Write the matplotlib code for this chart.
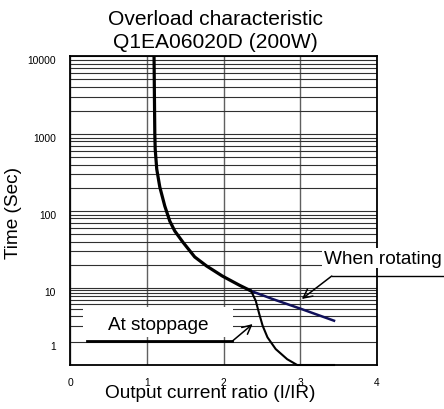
import numpy as np
import matplotlib
matplotlib.use('Agg')
import matplotlib.pyplot as plt
from matplotlib import font_manager
from matplotlib.patches import Rectangle
from matplotlib.ticker import FixedLocator, NullFormatter
import matplotlib.transforms as mtransforms

# curve data
rot_x = [1.095, 1.10, 1.105, 1.11, 1.13, 1.17, 1.235, 1.30, 1.365, 1.47, 1.625, 1.78, 1.985, 2.205, 2.36]
rot_y = [10000, 3000, 1000, 638, 351, 205, 116, 74, 55, 39.5, 25.3, 19.3, 14.3, 10.9, 8.8]
tail_x = [2.36, 2.64, 2.99, 3.44]
tail_y = [8.8, 6.25, 4.2, 2.48]
stop_x = [2.36, 2.42, 2.466, 2.51, 2.573, 2.68, 2.83, 2.96, 3.44]
stop_y = [8.8, 5.8, 3.3, 2.0, 1.22, 0.74, 0.48, 0.375, 0.375]

x_ticks = [0, 1, 2, 3, 4]
y_major = [1, 10, 100, 1000, 10000]
y_labels = ['1', '10', '100', '1000', '10000']
y_minor = [m * 10 ** k for k in range(4) for m in range(2, 10)]

# font: narrow sans if available
names = {f.name for f in font_manager.fontManager.ttflist}
if 'Liberation Sans Narrow' in names:
    FONT, K = 'Liberation Sans Narrow', 1.0
else:
    FONT, K = 'Liberation Sans', 0.84
plt.rcParams['font.family'] = [FONT, 'DejaVu Sans']

W, H = 444, 410
fig = plt.figure(figsize=(W / 100, H / 100), dpi=100)
ax = fig.add_axes([70 / W, 1 - 366 / H, 307 / W, 309 / H])

# the original grid has an uneven lower decade -> piecewise log scale
LOG_NODES = [np.log10(0.375), 0, 1, 2, 3, 4]
PIX_NODES = [0, 23, 77, 154, 231, 309]


def fwd(y):
    return np.interp(np.log10(np.clip(y, 1e-6, None)), LOG_NODES, PIX_NODES)


def inv(p):
    return 10 ** np.interp(p, PIX_NODES, LOG_NODES)


ax.set_yscale('function', functions=(fwd, inv))
ax.set_xlim(0, 4)
ax.set_ylim(0.375, 10000)

ax.set_xticks(x_ticks)
ax.set_xticklabels([str(t) for t in x_ticks])
ax.yaxis.set_major_locator(FixedLocator(y_major))
ax.yaxis.set_minor_locator(FixedLocator(y_minor))
ax.set_yticklabels(y_labels)
ax.yaxis.set_minor_formatter(NullFormatter())
ax.tick_params(axis='both', which='both', length=0, labelsize=8.8 * K)
ax.tick_params(axis='y', pad=10)
ax.tick_params(axis='x', pad=9)
offset = mtransforms.ScaledTranslation(0, -3 / 100, fig.dpi_scale_trans)
for lab in ax.get_yticklabels():
    lab.set_transform(lab.get_transform() + offset)

ax.set_axisbelow(True)
ax.grid(True, axis='y', which='both', color='#303030', lw=0.8)
ax.grid(True, axis='x', which='major', color='#606060', lw=1.0)
for s in ax.spines.values():
    s.set_linewidth(1.3)
    s.set_color('black')

# curves
ax.plot(rot_x, rot_y, color='black', lw=2.3, solid_capstyle='round', zorder=4)
ax.plot(tail_x, tail_y, color='#10105a', lw=1.8, zorder=4)
ax.plot(stop_x, stop_y, color='black', lw=1.5, clip_on=False, zorder=4)

# "At stoppage" label with white box and leader
ax.add_patch(Rectangle((0.042, 0.091), 0.489, 0.097, transform=ax.transAxes,
                       facecolor='white', edgecolor='none', zorder=2))
fig.text(158 / W, 1 - 325 / H, 'At stoppage', fontsize=16.3 * K,
         ha='center', va='center', zorder=5)
ax.plot([0.228, 2.116], [1.04, 1.04], color='black', lw=2, zorder=3)
ax.annotate('', xy=(2.38, 2.15), xytext=(2.116, 1.04),
            arrowprops=dict(arrowstyle='->', lw=1.1, color='black',
                            mutation_scale=16, shrinkA=0, shrinkB=0), zorder=5)

# "When rotating" label with leader
fig.text(383 / W, 1 - 259 / H, 'When rotating', fontsize=16.3 * K,
         ha='center', va='center', zorder=5,
         bbox=dict(boxstyle='square,pad=0.1', facecolor='white', edgecolor='none'))
ax.plot([3.41, 5.2], [14.3, 14.3], color='black', lw=1.0, clip_on=False, zorder=3)
ax.annotate('', xy=(3.02, 6.25), xytext=(3.41, 14.3),
            arrowprops=dict(arrowstyle='->', lw=1.1, color='black',
                            mutation_scale=16, shrinkA=0, shrinkB=0),
            annotation_clip=False, zorder=5)

# titles and axis labels
fig.text(215 / W, 1 - 25 / H, 'Overload characteristic', fontsize=18 * K,
         ha='center', va='baseline')
fig.text(215 / W, 1 - 48.5 / H, 'Q1EA06020D (200W)', fontsize=18 * K,
         ha='center', va='baseline')
fig.text(210 / W, 1 - 394 / H, 'Output current ratio (I/IR)', fontsize=16.3 * K,
         ha='center', va='center')
fig.text(13 / W, 1 - 213 / H, 'Time (Sec)', fontsize=16.3 * K,
         ha='center', va='center', rotation=90)

fig.savefig('out.png', dpi=100)
